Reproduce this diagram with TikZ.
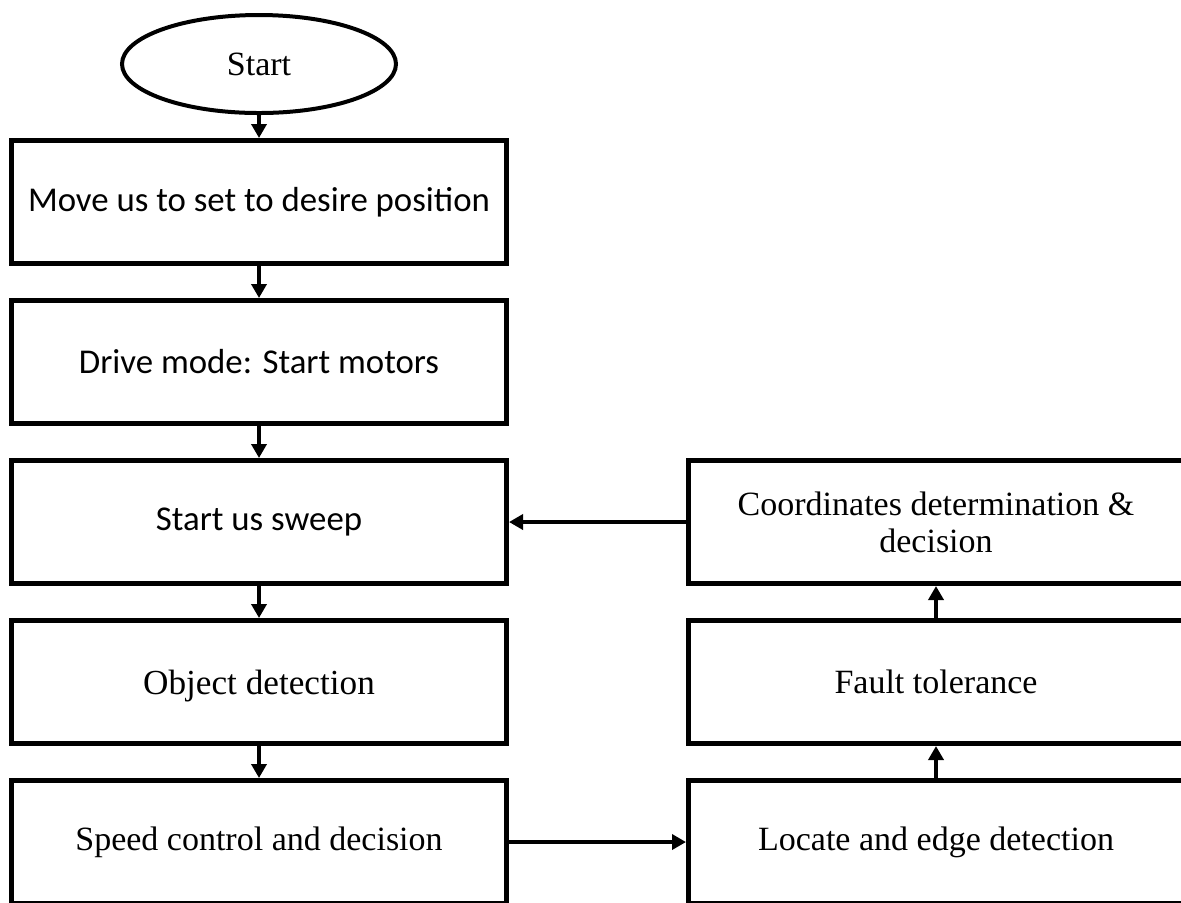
\documentclass[tikz,border=0pt]{standalone}
\usepackage{fontspec}
\setmainfont{Liberation Serif}
\newfontfamily\calibri{Carlito}
\usetikzlibrary{arrows.meta,positioning,shapes.geometric}

\begin{document}
\begin{tikzpicture}[
  font=\fontsize{17}{18.5}\selectfont,
  blk/.style={draw, line width=2.4pt, minimum width=247.6pt, minimum height=61.6pt,
    align=center, inner sep=4pt},
  sans/.style={font=\calibri\fontsize{17.4}{21}\selectfont},
  arr/.style={-{Triangle[length=7pt,width=7.5pt]}, line width=2pt}
]
\path[use as bounding box, clip] (0,0) rectangle (590.5pt,-451pt);
\fill[white] (0,0) rectangle (590.5pt,-451pt);
\node[draw, ellipse, line width=2pt, minimum width=137pt, minimum height=49pt]
  (st) at (129.5pt,-32pt) {Start};
\node[blk, sans, below=11.5pt of st] (mv) {Move us to set to desire position};
\node[blk, sans, below=16pt of mv] (dm) {Drive mode: Start motors};
\node[blk, sans, below=16pt of dm] (sw) {Start us sweep};
\node[blk, font=\fontsize{17.6}{21}\selectfont, text depth=0pt, below=16pt of sw] (od) {Object detection};
\node[blk, below=16pt of od] (sc) {Speed control and decision};
\node[blk, right=88.5pt of sw] (cd) {Coordinates determination \&\\decision};
\node[blk, below=16pt of cd] (ft) {Fault tolerance};
\node[blk, below=16pt of ft] (le) {Locate and edge detection};
\draw[arr] (st) -- (mv);
\draw[arr] (mv) -- (dm);
\draw[arr] (dm) -- (sw);
\draw[arr] (sw) -- (od);
\draw[arr] (od) -- (sc);
\draw[arr] (sc) -- (le);
\draw[arr] (le) -- (ft);
\draw[arr] (ft) -- (cd);
\draw[arr] (cd) -- (sw);
\end{tikzpicture}
\end{document}
